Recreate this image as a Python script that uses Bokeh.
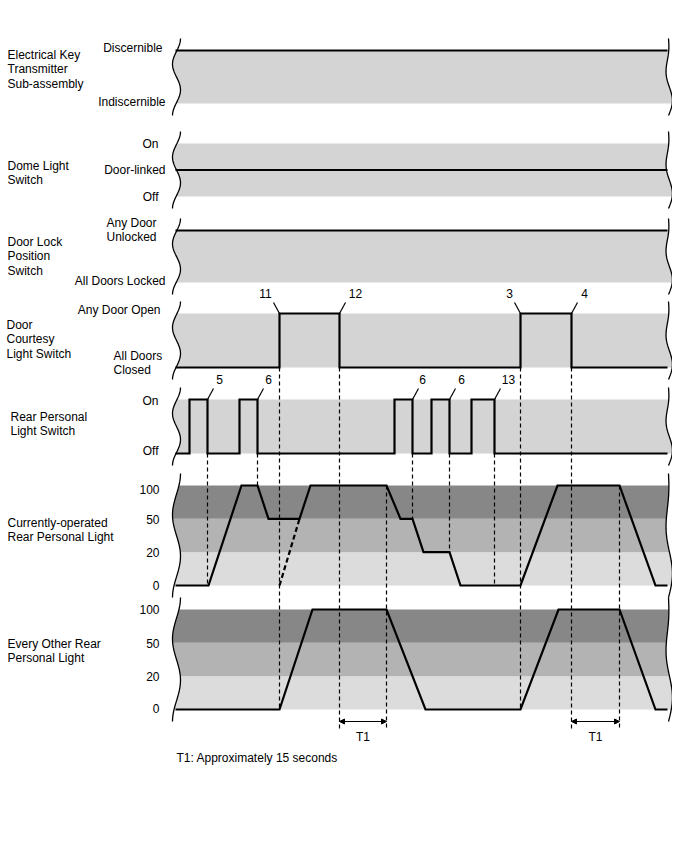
import numpy as np
from bokeh.plotting import figure
from bokeh.models import Range1d, Arrow, NormalHead
from bokeh.embed import file_html
from bokeh.resources import INLINE
from bokeh.core.properties import value

# ---------------- data (time axis in arbitrary units) ----------------
row_titles = [
    ["Electrical Key", "Transmitter", "Sub-assembly"],
    ["Dome Light", "Switch"],
    ["Door Lock", "Position", "Switch"],
    ["Door", "Courtesy", "Light Switch"],
    ["Rear Personal", "Light Switch"],
    ["Currently-operated", "Rear Personal Light"],
    ["Every Other Rear", "Personal Light"],
]

key_t = [175, 667]
key_v = [1, 1]            # 1 = Discernible, 0 = Indiscernible

dome_t = [175, 667]
dome_v = [0.5, 0.5]       # 1 = On, 0.5 = Door-linked, 0 = Off

lock_t = [175, 667]
lock_v = [1, 1]           # 1 = Any Door Unlocked, 0 = All Doors Locked

courtesy_t = [175, 279, 279, 339, 339, 520, 520, 571, 571, 667]
courtesy_v = [0, 0, 1, 1, 0, 0, 1, 1, 0, 0]   # 1 = Any Door Open

switch_t = [175, 189, 189, 207, 207, 239, 239, 257, 257, 394, 394, 412, 412,
            431, 431, 449, 449, 471, 471, 494, 494, 667]
switch_v = [0, 0, 1, 1, 0, 0, 1, 1, 0, 0, 1, 1, 0, 0, 1, 1, 0, 0, 1, 1, 0, 0]

light_levels = [0, 20, 50, 100]

current_t = [175, 208, 241, 257, 268, 299, 310, 386, 400, 412, 423, 449, 460, 520, 557, 619, 655, 667]
current_v = [0, 0, 100, 100, 50, 50, 100, 100, 50, 50, 20, 20, 0, 0, 100, 100, 0, 0]

current_alt_t = [279, 299]
current_alt_v = [0, 50]

other_t = [175, 279, 312, 386, 425, 520, 558, 619, 655, 667]
other_v = [0, 0, 100, 100, 0, 0, 100, 100, 0, 0]

courtesy_events = ["11", "12", "3", "4"]
courtesy_event_t = [279, 339, 520, 571]
switch_events = ["5", "6", "6", "6", "13"]
switch_event_t = [207, 257, 412, 449, 494]

guide_t = [207, 257, 279, 339, 386, 412, 449, 494, 520, 571, 619]
t1_start = [339, 571]
t1_end = [386, 619]
note = "T1: Approximately 15 seconds"

# ---------------- layout ----------------
FONT = value("Liberation Sans")
FS = "12px"
W, H = 672, 800
p = figure(width=W, height=H, output_backend="svg", toolbar_location=None,
           x_range=Range1d(0, W), y_range=Range1d(H, 0),
           x_axis_location=None, y_axis_location=None, min_border=0,
           outline_line_color=None, background_fill_color="white")
p.grid.visible = False

# band top/bottom (screen coordinates)
bands = [(50, 103), (143, 196), (230, 282), (313, 367), (399, 453), (485, 585), (609, 709)]
STEP_COLOR = "#d4d4d4"
LIGHT_COLORS = ["#dcdcdc", "#b3b3b3", "#878787"]   # 0-20, 20-50, 50-100
EXT = 12


def left_wave(ys, y0, y1):
    s = (ys - y0) / (y1 - y0)
    return 176 + 4 * np.cos(3 * np.pi * s)


def right_wave(ys, y0, y1):
    s = (ys - y0) / (y1 - y0)
    return 668 - 2.1 * np.sin(2 * np.pi * s) + 2.0 * np.sin(3 * np.pi * s)


def band_patch(top, bot, w0, w1, color):
    ys = np.linspace(top, bot, 30)
    xl = left_wave(ys, w0, w1)
    xr = right_wave(ys, w0, w1)
    xs = np.concatenate([xl, xr[::-1]])
    yy = np.concatenate([ys, ys[::-1]])
    p.patch(xs, yy, fill_color=color, line_color=None)


for i, (top, bot) in enumerate(bands):
    w0, w1 = top - EXT, bot + EXT
    if i < 5:
        band_patch(top, bot, w0, w1, STEP_COLOR)
    else:
        h = (bot - top) / 3
        for k in range(3):
            band_patch(bot - (k + 1) * h, bot - k * h, w0, w1, LIGHT_COLORS[k])
    ys = np.linspace(w0, w1, 60)
    p.line(left_wave(ys, w0, w1), ys, line_color="black", line_width=1.3)
    p.line(right_wave(ys, w0, w1), ys, line_color="black", line_width=1.3)


def step_y(row, vals):
    top, bot = bands[row]
    return [bot - v * (bot - top) for v in vals]


def light_y(row, vals):
    top, bot = bands[row]
    h = (bot - top) / 3
    return [bot - light_levels.index(v) * h for v in vals]


# guides (dashed verticals)
guide_span = {207: (453, 585), 257: (453, 485), 279: (367, 709), 339: (367, 730),
              386: (485, 730), 412: (453, 518), 449: (453, 551), 494: (453, 585),
              520: (367, 709), 571: (367, 730), 619: (485, 730)}
p.segment(x0=guide_t, x1=guide_t,
          y0=[guide_span[t][0] for t in guide_t], y1=[guide_span[t][1] for t in guide_t],
          line_color="black", line_width=1.2, line_dash="4 3")

SIG = dict(line_color="black", line_width=2.2, line_join="miter")
p.line(key_t, step_y(0, key_v), **SIG)
p.line(dome_t, step_y(1, dome_v), **SIG)
p.line(lock_t, step_y(2, lock_v), **SIG)
p.line(courtesy_t, step_y(3, courtesy_v), **SIG)
p.line(switch_t, step_y(4, switch_v), **SIG)
p.line(current_t, light_y(5, current_v), **SIG)
p.line(current_alt_t, light_y(5, current_alt_v), line_color="black", line_width=2.2, line_dash="5 3")
p.line(other_t, light_y(6, other_v), **SIG)


# event markers
def event_marks(row, ts, labels, direction, label_dx):
    top, bot = bands[row]
    x0, x1, y0, y1, lx, ly = [], [], [], [], [], []
    for t, lab, d, dx in zip(ts, labels, direction, label_dx):
        x0.append(t); y0.append(top)
        x1.append(t + 6 * d); y1.append(top - 11)
        lx.append(t + dx); ly.append(top - 20)
    p.segment(x0=x0, y0=y0, x1=x1, y1=y1, line_color="black", line_width=1.2)
    p.text(x=lx, y=ly, text=labels, text_font=FONT, text_font_size=FS,
           text_align="center", text_baseline="middle", text_color="black")


event_marks(3, courtesy_event_t, courtesy_events, [-1, 1, -1, 1], [-14, 16, -11, 13])
event_marks(4, switch_event_t, switch_events, [1, 1, 1, 1, 1], [12, 11, 10, 12, 14])

# T1 arrows
for a, b in zip(t1_start, t1_end):
    p.add_layout(Arrow(x_start=a, y_start=721, x_end=b, y_end=721,
                       start=NormalHead(size=5, fill_color="black", line_color="black"),
                       end=NormalHead(size=5, fill_color="black", line_color="black"),
                       line_color="black", line_width=1.2))
p.text(x=[(a + b) / 2 for a, b in zip(t1_start, t1_end)], y=[736, 736], text=["T1", "T1"],
       text_font=FONT, text_font_size=FS, text_align="center", text_baseline="middle")
p.text(x=[176], y=[757], text=[note], text_font=FONT, text_font_size=FS,
       text_align="left", text_baseline="middle")

# row titles
title_pos = [(7, 54), (7, 165), (7, 241), (6, 324), (10, 416), (7, 522), (7, 643)]
tx, ty, tt = [], [], []
for (x, y), lines in zip(title_pos, row_titles):
    for j, s in enumerate(lines):
        tx.append(x); ty.append(y + j * 14.5); tt.append(s)
p.text(x=tx, y=ty, text=tt, text_font=FONT, text_font_size=FS,
       text_align="left", text_baseline="middle")

# level labels (right aligned)
right_labels = [
    ("Discernible", 162, 47), ("Indiscernible", 165, 101),
    ("On", 158, 143), ("Door-linked", 165, 169), ("Off", 158, 196),
    ("Any Door", 156, 222), ("Unlocked", 156, 236), ("All Doors Locked", 165, 280),
    ("Any Door Open", 160, 309),
    ("On", 158, 400), ("Off", 158, 450),
    ("100", 159, 489), ("50", 159, 519), ("20", 159, 552), ("0", 159, 585),
    ("100", 159, 609), ("50", 159, 643), ("20", 159, 676), ("0", 159, 708),
]
p.text(x=[r[1] for r in right_labels], y=[r[2] for r in right_labels],
       text=[r[0] for r in right_labels], text_font=FONT, text_font_size=FS,
       text_align="right", text_baseline="middle")
p.text(x=[113, 113], y=[355, 369], text=["All Doors", "Closed"], text_font=FONT,
       text_font_size=FS, text_align="left", text_baseline="middle")

open("out.html", "w").write(file_html(p, INLINE))
